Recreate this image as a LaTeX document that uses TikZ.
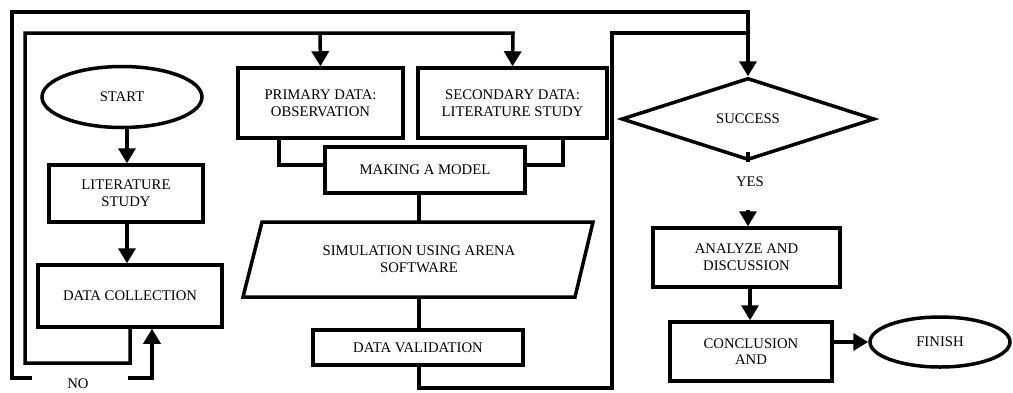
\documentclass[tikz,border=0pt]{standalone}
\usepackage{fontspec}
\setmainfont{Liberation Serif}
\usetikzlibrary{arrows.meta,shapes.geometric}
\begin{document}
\begin{tikzpicture}[x=1pt,y=-1pt,
  every node/.style={font=\fontsize{14.7}{16.7}\selectfont, align=center, inner sep=0pt},
  ln/.style={line width=3.5pt, line join=miter},
  arr/.style={ln, -{Triangle[length=15pt,width=17pt]}},
  box/.style={draw, line width=3.5pt, rectangle},
  term/.style={draw, line width=3.5pt, ellipse}]
\useasboundingbox (0,0) rectangle (1013,392);
% left column
\node[term, minimum width=160pt, minimum height=61pt] (start) at (122,97) {START};
\node[box, minimum width=154pt, minimum height=57pt] (lit) at (126,193.5) {LITERATURE\\STUDY};
\node[box, minimum width=184pt, minimum height=62pt] (dc) at (130,296) {DATA COLLECTION};
% middle column
\node[box, minimum width=165pt, minimum height=70pt] (prim) at (320.5,103) {PRIMARY DATA:\\OBSERVATION};
\node[box, minimum width=189pt, minimum height=70pt] (sec) at (512.5,103) {SECONDARY DATA:\\LITERATURE STUDY};
\node[box, minimum width=200pt, minimum height=46pt, fill=white] (model) at (425,170) {MAKING A MODEL};
\node[minimum width=331pt, minimum height=75pt] (sim) at (419,259.5) {SIMULATION USING ARENA\\SOFTWARE};
\draw[ln] (262,222) -- (593,222) -- (575,297) -- (243,297) -- cycle;
\node[box, minimum width=210pt, minimum height=35pt] (val) at (418,347.5) {DATA VALIDATION};
% right column
\node[draw, diamond, line width=3.5pt, minimum width=253pt, minimum height=82pt] (succ) at (748,119) {SUCCESS};
\node (yes) at (750,182) {YES};
\node[box, minimum width=187pt, minimum height=59pt] (ana) at (746.5,257.5) {ANALYZE AND\\DISCUSSION};
\node[box, minimum width=162pt, minimum height=59pt] (conc) at (751,351.5) {CONCLUSION\\AND};
\node[term, minimum width=140pt, minimum height=50pt] (fin) at (940,342) {FINISH};
\node[anchor=base] (no) at (78,388) {NO};
% connectors
\draw[arr] (start.south -| 127,0) -- (lit.north -| 127,0);
\draw[arr] (lit.south -| 127,0) -- (dc.north -| 127,0);
\draw[ln] (prim.south -| 279,0) -- (279,165) -- (model.west |- 279,165);
\draw[ln] (sec.south -| 563,0) -- (563,165) -- (model.east |- 563,165);
\draw[ln] (sim.north) -- (sim.north |- model.south);
\draw[ln] (sim.south) -- (sim.south |- val.north);
% inner loop
\draw[arr] (dc.south) -- (130,363) -- (25,363) -- (25,33) -- (513,33) -- (sec.north);
\draw[arr] (320,33) -- (prim.north);
% outer loop (NO)
\coordinate (nox) at (152,378);
\draw[ln] (748,33) -- (748,12) -- (12,12) -- (12,378) -- (32,378);
\draw[arr] (128,378) -- (nox) -- (dc.south -| nox);
% right loop
\draw[arr] (val.south -| 419,0) -- (419,388) -- (612,388) -- (612,33) -- (748,33) -- (succ.north);
% yes branch
\draw[ln] (succ.south) -- ++(0,-10);
\draw[arr] (748,210) -- (ana.north -| 748,0);
\draw[arr] (ana.south -| 750,0) -- (conc.north -| 750,0);
\draw[arr] (conc.east |- fin.west) -- (fin.west);
\end{tikzpicture}
\end{document}
